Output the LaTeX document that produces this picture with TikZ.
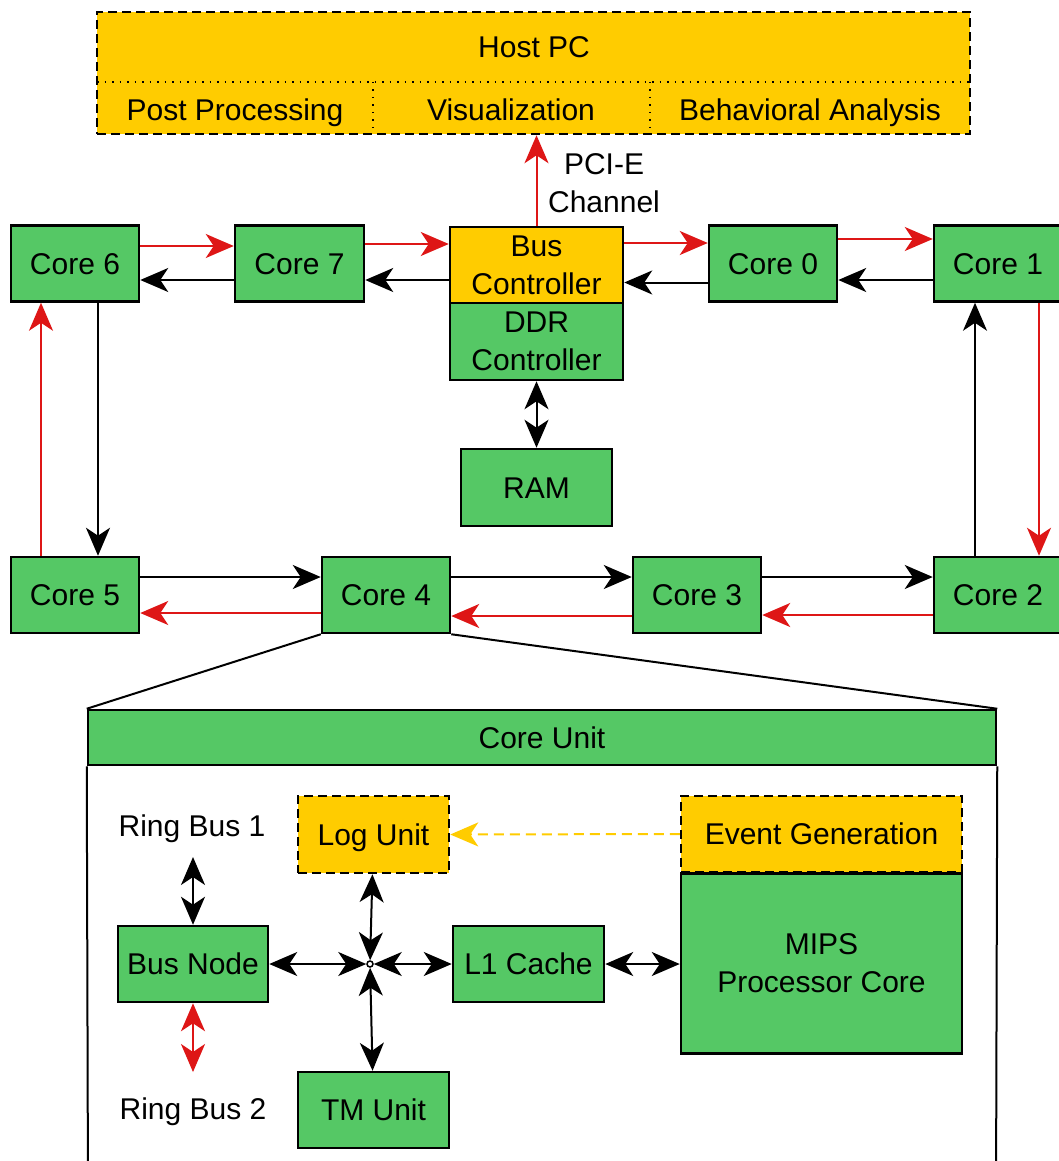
\documentclass[tikz,border=0pt]{standalone}
\usepackage{fontspec}
\setmainfont{Liberation Sans}
\usetikzlibrary{arrows.meta,calc}
\definecolor{boxgreen}{RGB}{85,200,101}
\definecolor{boxyellow}{RGB}{255,204,0}
\definecolor{linkred}{RGB}{222,22,22}

\tikzset{
  >={Stealth[length=28pt,width=24pt,inset=8pt]},
  lbl/.style={align=center, inner sep=0pt, font=\fontsize{30}{38}\selectfont},
  one/.style={text height=21.5pt, text depth=0pt},
  blk/.style={lbl, draw=black, line width=2.5pt},
  grn/.style={blk, fill=boxgreen},
  ylw/.style={blk, fill=boxyellow},
  dsh/.style={dash pattern=on 9pt off 5pt},
  fwd/.style={line width=2pt, draw=linkred, ->},
  bwd/.style={line width=2pt, draw=black, ->},
  both/.style={line width=2pt, draw=black, <->},
  bothred/.style={line width=2pt, draw=linkred, <->},
  evlink/.style={line width=2pt, draw=boxyellow, dash pattern=on 10pt off 6pt, ->},
  edge/.style={line width=2pt, draw=black},
}

\begin{document}
\begin{tikzpicture}[x=1pt,y=-1pt]
\useasboundingbox[fill=white] (0,0) rectangle (1059,1161);

% Host PC with its three sub-areas
\node[ylw, dsh, minimum width=873pt, minimum height=122pt] (host) at (533.5,73) {};
\draw[line width=1.5pt, dash pattern=on 1.5pt off 6pt] (97,82) -- (970,82);
\draw[line width=1.5pt, dash pattern=on 1.5pt off 6pt] (373,82) -- (373,134);
\draw[line width=1.5pt, dash pattern=on 1.5pt off 6pt] (650,82) -- (650,134);
\node[lbl, one] (hostt) at (534,47) {Host PC};
\node[lbl, one] (post) at (235,110) {Post Processing};
\node[lbl, one] (vis) at (511,110) {Visualization};
\node[lbl, one] (beh) at (810,110) {Behavioral Analysis};

% upper ring row
\node[grn, one, minimum width=128pt, minimum height=76pt] (core6) at (75,263.5) {Core 6};
\node[grn, one, minimum width=129pt, minimum height=76pt] (core7) at (299.5,263.5) {Core 7};
\node[ylw, minimum width=173pt, minimum height=76pt] (bus) at (536.5,265) {Bus\\Controller};
\node[grn, minimum width=173pt, minimum height=77pt] (ddr) at (536.5,341.5) {DDR\\Controller};
\node[grn, one, minimum width=128pt, minimum height=76pt] (core0) at (773,263.5) {Core 0};
\node[grn, one, minimum width=128pt, minimum height=76pt] (core1) at (998,263.5) {Core 1};
\node[grn, one, minimum width=151pt, minimum height=77pt] (ram) at (536.5,487.5) {RAM};

% lower ring row
\node[grn, one, minimum width=128pt, minimum height=76pt] (core5) at (75,595) {Core 5};
\node[grn, one, minimum width=128pt, minimum height=76pt] (core4) at (386,595) {Core 4};
\node[grn, one, minimum width=128pt, minimum height=76pt] (core3) at (697,595) {Core 3};
\node[grn, one, minimum width=128pt, minimum height=76pt] (core2) at (998,595) {Core 2};

% PCI-E link to the host
\draw[fwd] (bus.north) -- (bus.north |- host.south);
\node[lbl] (pcie) at (604,183) {PCI-E\\Channel};

% ring links, upper row
\draw[fwd] ([yshift=17.5pt]core6.east) -- ([yshift=17.5pt]core7.west);
\draw[bwd] ([yshift=-16.5pt]core7.west) -- ([yshift=-16.5pt]core6.east);
\draw[fwd] ([yshift=19.5pt]core7.east) -- ([yshift=21pt]bus.west);
\draw[bwd] ([yshift=-15pt]bus.west) -- ([yshift=-16.5pt]core7.east);
\draw[fwd] ([yshift=22pt]bus.east) -- ([yshift=20.5pt]core0.west);
\draw[bwd] ([yshift=-19pt]core0.west) -- ([yshift=-17.5pt]bus.east);
\draw[fwd] ([yshift=24.5pt]core0.east) -- ([yshift=24.5pt]core1.west);
\draw[bwd] ([yshift=-16.5pt]core1.west) -- ([yshift=-16.5pt]core0.east);

% ring links, sides
\draw[bwd] ([xshift=23pt]core6.south) -- ([xshift=23pt]core5.north);
\draw[fwd] ([xshift=-34pt]core5.north) -- ([xshift=-34pt]core6.south);
\draw[fwd] ([xshift=41pt]core1.south) -- ([xshift=41pt]core2.north);
\draw[bwd] ([xshift=-23pt]core2.north) -- ([xshift=-23pt]core1.south);

% ring links, lower row
\draw[bwd] ([yshift=18pt]core5.east) -- ([yshift=18pt]core4.west);
\draw[fwd] ([yshift=-18pt]core4.west) -- ([yshift=-18pt]core5.east);
\draw[bwd] ([yshift=18pt]core4.east) -- ([yshift=18pt]core3.west);
\draw[fwd] ([yshift=-21pt]core3.west) -- ([yshift=-21pt]core4.east);
\draw[bwd] ([yshift=18pt]core3.east) -- ([yshift=18pt]core2.west);
\draw[fwd] ([yshift=-20pt]core2.west) -- ([yshift=-20pt]core3.east);

% memory
\draw[both] (ddr.south) -- (ram.north);

% zoom into Core 4
\node[grn, one, minimum width=908pt, minimum height=55pt] (cu) at (542,737.5) {Core Unit};
\draw[edge] (core4.south west) -- (cu.north west);
\draw[edge] (core4.south east) -- (cu.north east);
\draw[edge] (cu.south west) -- (88,1200);
\draw[edge] (cu.south east) -- (996,1200);

% core unit internals
\node[ylw, one, dsh, minimum width=151pt, minimum height=77pt] (logu) at (373.5,834.5) {Log Unit};
\node[ylw, one, dsh, minimum width=281pt, minimum height=76pt] (evgen) at (821.5,834) {Event Generation};
\node[grn, minimum width=281pt, minimum height=180pt] (mips) at (821.5,963.5) {MIPS\\Processor Core};
\node[grn, one, minimum width=150pt, minimum height=76pt] (busnode) at (193,964) {Bus Node};
\node[grn, one, minimum width=151pt, minimum height=76pt] (l1) at (528.5,964) {L1 Cache};
\node[grn, one, minimum width=151pt, minimum height=76pt] (tm) at (373.5,1110) {TM Unit};
\node[lbl, one] (rb1) at (192,826) {Ring Bus 1};
\node[lbl, one] (rb2) at (193,1109) {Ring Bus 2};
\coordinate (rb1p) at (193,857);
\coordinate (rb2p) at (193,1072);
\node[circle, draw=black, fill=white, line width=1.5pt, inner sep=0pt, minimum size=6pt] (hub) at (370,964) {};

\draw[evlink] (evgen.west) -- (logu.east);
\draw[both] (busnode.north) -- (rb1p);
\draw[bothred] (busnode.south) -- (rb2p);
\draw[both] (hub) -- (busnode);
\draw[both] (hub) -- (logu);
\draw[both] (hub) -- (l1);
\draw[both] (hub) -- (tm);
\draw[both] (l1.east) -- (mips.west |- l1.east);
\end{tikzpicture}
\end{document}
